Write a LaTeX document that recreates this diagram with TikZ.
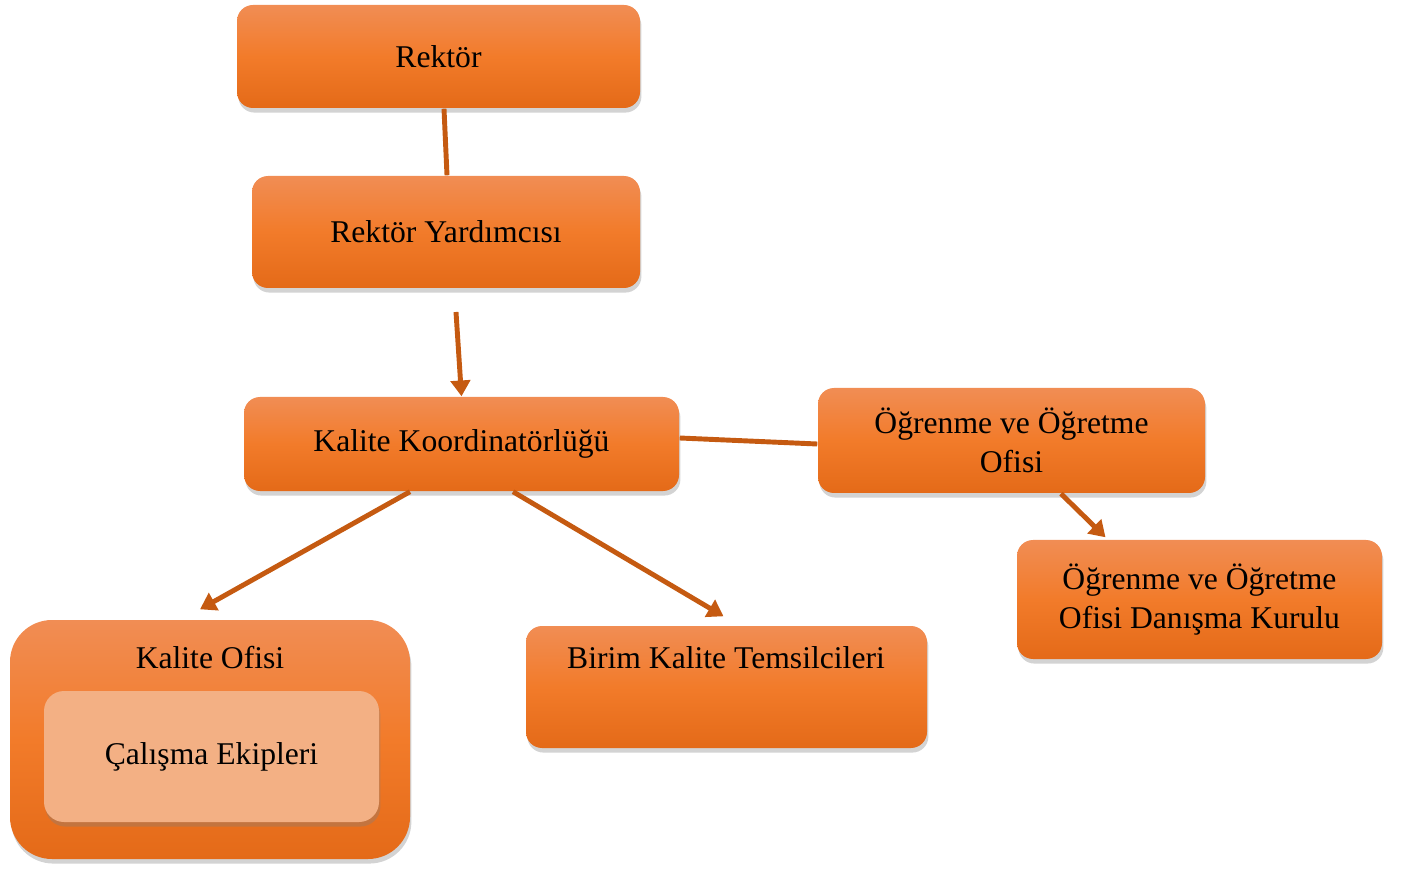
\documentclass[tikz,border=0pt]{standalone}
\usepackage{fontspec}
\setmainfont{Liberation Serif}
\usepackage{tikz}
\usetikzlibrary{shapes,arrows,positioning,calc,shadows,arrows.meta}

\definecolor{orTop}{RGB}{241,141,84}
\definecolor{orMid}{RGB}{242,123,42}
\definecolor{orBot}{RGB}{228,106,24}
\definecolor{orLight}{RGB}{243,176,132}
\definecolor{orLine}{RGB}{197,90,17}

\begin{document}
\begin{tikzpicture}[
    font=\fontsize{9}{11}\selectfont,
    box/.style={rectangle, rounded corners=0.16cm, inner sep=0pt, align=center,
        top color=orTop, bottom color=orBot, middle color=orMid,
        drop shadow={opacity=0.35, shadow xshift=0.4pt, shadow yshift=-1.3pt}},
    innerbox/.style={rectangle, rounded corners=0.2cm, inner sep=0pt, align=center,
        fill=orLight,
        drop shadow={opacity=0.35, shadow xshift=0.4pt, shadow yshift=-1.3pt}},
    link/.style={draw=orLine, line width=1.4pt},
    arrowlink/.style={link, -{Triangle[width=5.5pt,length=4.5pt]}}
]
    \useasboundingbox (0,0) rectangle (14.05,-8.69);

    % Top of the chart
    \node[box, minimum width=4.03cm, minimum height=1.03cm] (rektor) at (4.385,-0.565) {Rektör};
    \node[box, minimum width=3.88cm, minimum height=1.12cm] (yard) at (4.46,-2.32) {Rektör Yardımcısı};
    \node[box, minimum width=4.35cm, minimum height=0.94cm] (kk) at (4.615,-4.44) {Kalite Koordinatörlüğü};

    % Right branch
    \node[box, minimum width=3.87cm, minimum height=1.05cm] (oo) at (10.115,-4.405) {Öğrenme ve Öğretme\\Ofisi};
    \node[box, minimum width=3.65cm, minimum height=1.19cm] (dk) at (11.995,-5.995) {Öğrenme ve Öğretme\\Ofisi Danışma Kurulu};

    % Lower boxes
    \node[box, rounded corners=0.42cm, minimum width=4.00cm, minimum height=2.39cm] (ko) at (2.10,-7.395) {};
    \node (kolbl) at (2.10,-6.58) {Kalite Ofisi};
    \node[innerbox, minimum width=3.35cm, minimum height=1.31cm] (ce) at (2.115,-7.565) {Çalışma Ekipleri};
    \node[box, minimum width=4.01cm, minimum height=1.22cm] (bk) at (7.265,-6.87) {};
    \node (bklbl) at (7.26,-6.58) {Birim Kalite Temsilcileri};

    % Connectors
    \coordinate (yardout) at (4.56,-3.12);
    \draw[link] ([xshift=0.55mm]rektor.south) -- ([xshift=0.1mm]yard.north);
    \draw[arrowlink] (yardout) -- (kk.north);
    \draw[link] ([yshift=0.6mm]kk.east) -- ([yshift=-0.35mm]oo.west);
    \draw[arrowlink] ([xshift=-5.15mm]kk.south) -- ($(ko.north)+(-0.1,0.1)$);
    \draw[arrowlink] ([xshift=5.15mm]kk.south) -- ($(bk.north)+(-0.03,0.09)$);
    \draw[arrowlink] ([xshift=4.95mm]oo.south) -- ([xshift=-9.4mm,yshift=0.2mm]dk.north);
\end{tikzpicture}
\end{document}
